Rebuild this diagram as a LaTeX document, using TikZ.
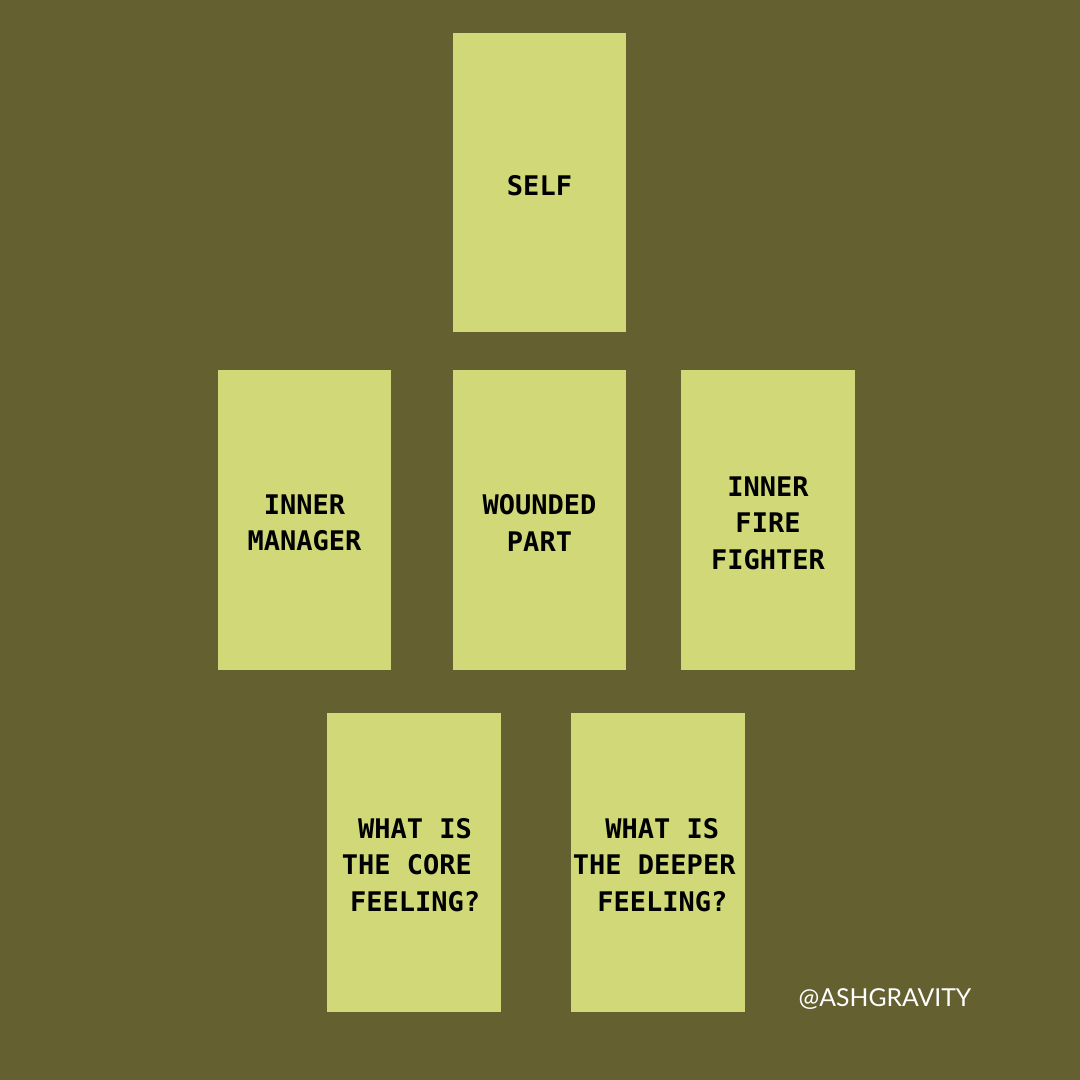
\documentclass[tikz,border=0pt]{standalone}
\usepackage{fontspec}
\usepackage{tikz}
\usetikzlibrary{positioning}
\newfontfamily\cardfont{DejaVu Sans Mono}
\newfontfamily\tagfont{Lato}
\definecolor{olivebg}{HTML}{646030}
\definecolor{cardgreen}{HTML}{D0D878}

\begin{document}
\begin{tikzpicture}[
    x=0.025cm, y=-0.025cm,
    card/.style={rectangle, fill=cardgreen, minimum width=4.325cm, minimum height=7.475cm, inner sep=0pt},
    cardtext/.style={font=\cardfont\bfseries\fontsize{19.2pt}{25.9pt}\selectfont, text=black, align=center},
    lefttext/.style={cardtext, align=left},
    tag/.style={font=\tagfont\fontsize{17.6pt}{21pt}\selectfont, text=white}
]

% Background
\fill[olivebg] (0,0) rectangle (1080,1080);
\useasboundingbox (0,0) rectangle (1080,1080);

% Cards
\node (self) [card] at (539.5,182.5) {};
\node (manager) [card] at (304.5,520) {};
\node (wounded) [card] at (539.5,520) {};
\node (firefighter) [card] at (768,520) {};
\node (core) [card] at (414,862.5) {};
\node (deeper) [card] at (658,862.5) {};

% Labels
\node [cardtext] at ([yshift=-0.075cm]self) {SELF};
\node [cardtext] at ([yshift=-0.075cm]manager) {INNER\\MANAGER};
\node [cardtext] at ([yshift=-0.075cm]wounded) {WOUNDED\\PART};
\node [cardtext] at ([yshift=-0.075cm]firefighter) {INNER\\FIRE\\FIGHTER};
\node [lefttext, anchor=west] at (337,865) {\hspace*{0.6em}WHAT IS\\THE CORE\\\hspace*{0.3em}FEELING?};
\node [lefttext, anchor=west] at (568,865) {\hspace*{1.2em}WHAT IS\\THE DEEPER\\\hspace*{0.9em}FEELING?};

\node (handle) [tag] at (885,999) {@ASHGRAVITY};

\end{tikzpicture}
\end{document}
